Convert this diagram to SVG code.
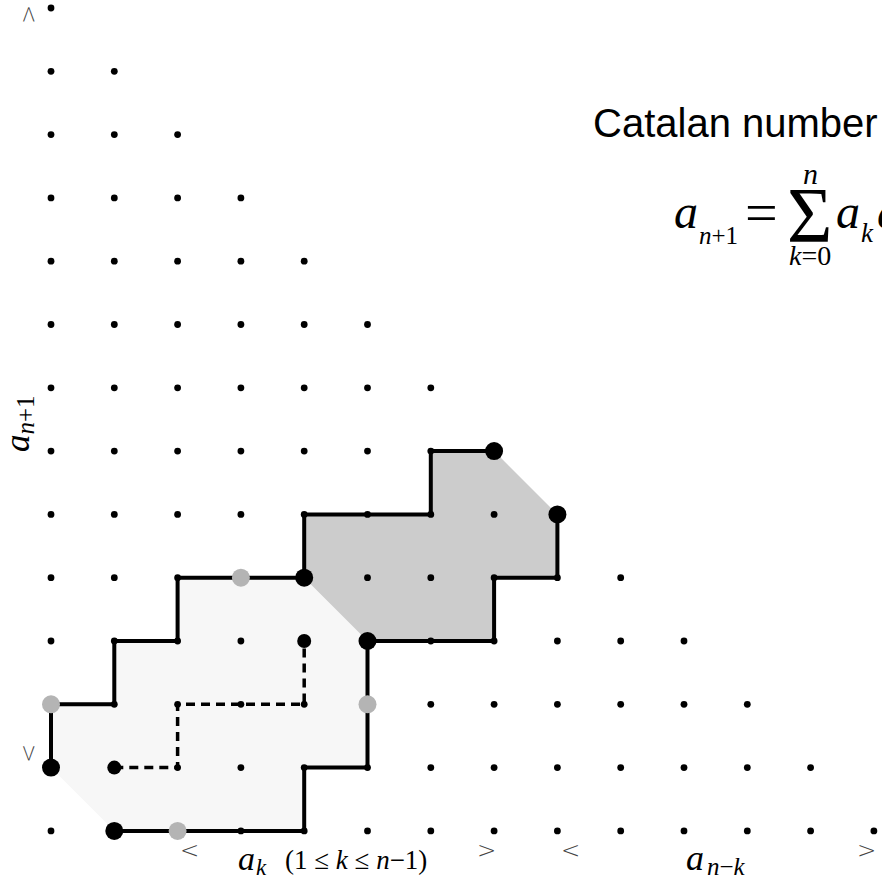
<svg xmlns="http://www.w3.org/2000/svg" width="882" height="878" viewBox="0 0 882 878">
<style>
.dot{fill:#000}
.big{fill:#000}
.gray{fill:#b4b4b4}
.path{fill:none;stroke:#000;stroke-width:4;stroke-linejoin:miter;stroke-linecap:square}
.dash{fill:none;stroke:#000;stroke-width:3.5;stroke-dasharray:9 6}
.math{font-family:"Liberation Serif","Times New Roman",serif;font-style:italic;fill:#000}
.rm{font-family:"Liberation Serif","Times New Roman",serif;fill:#000}
.brk{font-family:"DejaVu Sans",sans-serif;fill:#444;font-size:23px;font-weight:200}
.title{font-family:"Liberation Sans",Arial,sans-serif;font-size:40px;fill:#000}
</style>
<defs>
<circle id="d" r="3.4" class="dot"/>
</defs>
<rect width="882" height="878" fill="#fff"/>
<g id="regions">
<polygon id="region-k" fill="#f7f7f7" points="51,767.6 51,704.3 114.3,704.3 114.3,641 177.6,641 177.6,577.7 304.2,577.7 367.5,641 367.5,767.6 304.2,767.6 304.2,830.9 114.3,830.9"/>
<polygon id="region-nk" fill="#cccccc" points="304.2,577.7 304.2,514.4 430.8,514.4 430.8,451.1 494.1,451.1 557.4,514.4 557.4,577.7 494.1,577.7 494.1,641 367.5,641"/>
</g>
<g id="lattice">
<use href="#d" x="51" y="8"/>
<use href="#d" x="51" y="71.3"/><use href="#d" x="114.3" y="71.3"/>
<use href="#d" x="51" y="134.6"/><use href="#d" x="114.3" y="134.6"/><use href="#d" x="177.6" y="134.6"/>
<use href="#d" x="51" y="197.9"/><use href="#d" x="114.3" y="197.9"/><use href="#d" x="177.6" y="197.9"/><use href="#d" x="240.9" y="197.9"/>
<use href="#d" x="51" y="261.2"/><use href="#d" x="114.3" y="261.2"/><use href="#d" x="177.6" y="261.2"/><use href="#d" x="240.9" y="261.2"/><use href="#d" x="304.2" y="261.2"/>
<use href="#d" x="51" y="324.5"/><use href="#d" x="114.3" y="324.5"/><use href="#d" x="177.6" y="324.5"/><use href="#d" x="240.9" y="324.5"/><use href="#d" x="304.2" y="324.5"/><use href="#d" x="367.5" y="324.5"/>
<use href="#d" x="51" y="387.8"/><use href="#d" x="114.3" y="387.8"/><use href="#d" x="177.6" y="387.8"/><use href="#d" x="240.9" y="387.8"/><use href="#d" x="304.2" y="387.8"/><use href="#d" x="367.5" y="387.8"/><use href="#d" x="430.8" y="387.8"/>
<use href="#d" x="51" y="451.1"/><use href="#d" x="114.3" y="451.1"/><use href="#d" x="177.6" y="451.1"/><use href="#d" x="240.9" y="451.1"/><use href="#d" x="304.2" y="451.1"/><use href="#d" x="367.5" y="451.1"/><use href="#d" x="430.8" y="451.1"/><use href="#d" x="494.1" y="451.1"/>
<use href="#d" x="51" y="514.4"/><use href="#d" x="114.3" y="514.4"/><use href="#d" x="177.6" y="514.4"/><use href="#d" x="240.9" y="514.4"/><use href="#d" x="304.2" y="514.4"/><use href="#d" x="367.5" y="514.4"/><use href="#d" x="430.8" y="514.4"/><use href="#d" x="494.1" y="514.4"/><use href="#d" x="557.4" y="514.4"/>
<use href="#d" x="51" y="577.7"/><use href="#d" x="114.3" y="577.7"/><use href="#d" x="177.6" y="577.7"/><use href="#d" x="240.9" y="577.7"/><use href="#d" x="304.2" y="577.7"/><use href="#d" x="367.5" y="577.7"/><use href="#d" x="430.8" y="577.7"/><use href="#d" x="494.1" y="577.7"/><use href="#d" x="557.4" y="577.7"/><use href="#d" x="620.7" y="577.7"/>
<use href="#d" x="51" y="641"/><use href="#d" x="114.3" y="641"/><use href="#d" x="177.6" y="641"/><use href="#d" x="240.9" y="641"/><use href="#d" x="304.2" y="641"/><use href="#d" x="367.5" y="641"/><use href="#d" x="430.8" y="641"/><use href="#d" x="494.1" y="641"/><use href="#d" x="557.4" y="641"/><use href="#d" x="620.7" y="641"/><use href="#d" x="684" y="641"/>
<use href="#d" x="51" y="704.3"/><use href="#d" x="114.3" y="704.3"/><use href="#d" x="177.6" y="704.3"/><use href="#d" x="240.9" y="704.3"/><use href="#d" x="304.2" y="704.3"/><use href="#d" x="367.5" y="704.3"/><use href="#d" x="430.8" y="704.3"/><use href="#d" x="494.1" y="704.3"/><use href="#d" x="557.4" y="704.3"/><use href="#d" x="620.7" y="704.3"/><use href="#d" x="684" y="704.3"/><use href="#d" x="747.3" y="704.3"/>
<use href="#d" x="51" y="767.6"/><use href="#d" x="114.3" y="767.6"/><use href="#d" x="177.6" y="767.6"/><use href="#d" x="240.9" y="767.6"/><use href="#d" x="304.2" y="767.6"/><use href="#d" x="367.5" y="767.6"/><use href="#d" x="430.8" y="767.6"/><use href="#d" x="494.1" y="767.6"/><use href="#d" x="557.4" y="767.6"/><use href="#d" x="620.7" y="767.6"/><use href="#d" x="684" y="767.6"/><use href="#d" x="747.3" y="767.6"/><use href="#d" x="810.6" y="767.6"/>
<use href="#d" x="51" y="830.9"/><use href="#d" x="114.3" y="830.9"/><use href="#d" x="177.6" y="830.9"/><use href="#d" x="240.9" y="830.9"/><use href="#d" x="304.2" y="830.9"/><use href="#d" x="367.5" y="830.9"/><use href="#d" x="430.8" y="830.9"/><use href="#d" x="494.1" y="830.9"/><use href="#d" x="557.4" y="830.9"/><use href="#d" x="620.7" y="830.9"/><use href="#d" x="684" y="830.9"/><use href="#d" x="747.3" y="830.9"/><use href="#d" x="810.6" y="830.9"/><use href="#d" x="873.9" y="830.9"/>
</g>
<g id="connectors">
<path class="path" d="M51,767.6 V704.3 H114.3 V641 H177.6 V577.7 H304.2 V514.4 H430.8 V451.1 H494.1"/>
<path class="path" d="M557.4,514.4 V577.7 H494.1 V641 H367.5 V767.6 H304.2 V830.9 H114.3"/>
<path class="dash" d="M114.3,767.6 H177.6 V704.3 H304.2 V641"/>
</g>
<g id="markers">
<circle class="big" cx="51" cy="767.6" r="9"/>
<circle class="big" cx="114.3" cy="830.9" r="9"/>
<circle class="big" cx="304.2" cy="577.7" r="9"/>
<circle class="big" cx="367.5" cy="641" r="9"/>
<circle class="big" cx="494.1" cy="451.1" r="9"/>
<circle class="big" cx="557.4" cy="514.4" r="9"/>
<circle class="big" cx="114.3" cy="767.6" r="7"/>
<circle class="big" cx="304.2" cy="641" r="7"/>
<circle class="gray" cx="240.9" cy="577.7" r="9"/>
<circle class="gray" cx="51" cy="704.3" r="9"/>
<circle class="gray" cx="367.5" cy="704.3" r="9"/>
<circle class="gray" cx="177.6" cy="830.9" r="9"/>
</g>
<g id="labels">
<text class="title" x="593" y="137">Catalan number</text>
<text class="math" x="674" y="228" font-size="48">a</text>
<text class="math" x="699" y="244" font-size="25">n<tspan font-style="normal">+1</tspan></text>
<text class="rm" x="745" y="232" font-size="58">=</text>
<text class="rm" x="787" y="241" font-size="78">Σ</text>
<text class="math" x="803" y="184" font-size="30">n</text>
<text class="math" x="789" y="265" font-size="28">k<tspan font-style="normal">=0</tspan></text>
<text class="math" x="836" y="228" font-size="48">a</text>
<text class="math" x="861" y="242" font-size="27">k</text>
<text class="math" x="877" y="228" font-size="48">a</text>
<text class="math" transform="translate(29,452) rotate(-90)" font-size="35">a<tspan font-size="25" dy="5">n<tspan font-style="normal">+1</tspan></tspan></text>
<text class="brk" transform="translate(36,763) rotate(-90)">&lt;</text>
<text class="brk" transform="translate(36,24) rotate(-90)">&gt;</text>
<text class="brk" x="180" y="858">&lt;</text>
<text class="brk" x="477" y="858">&gt;</text>
<text class="brk" x="561" y="858">&lt;</text>
<text class="brk" x="857" y="858">&gt;</text>
<text class="math" x="238" y="870" font-size="34">a</text>
<text class="math" x="256" y="875" font-size="23">k</text>
<text class="rm" x="285" y="869" font-size="27">(1 ≤ <tspan font-style="italic">k</tspan> ≤ <tspan font-style="italic">n</tspan>−1)</text>
<text class="math" x="686" y="870" font-size="36">a</text>
<text class="math" x="707" y="875" font-size="25">n<tspan font-style="normal">−</tspan>k</text>
</g>
</svg>
